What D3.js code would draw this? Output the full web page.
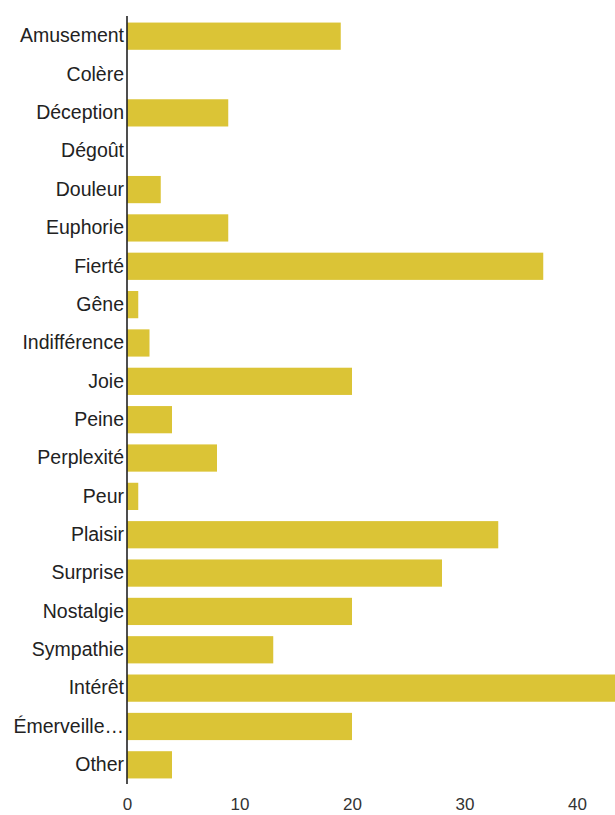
<!DOCTYPE html>
<html>
<head>
<meta charset="utf-8">
<script src="https://cdn.jsdelivr.net/npm/d3@7"></script>
<style>
  html, body { margin: 0; padding: 0; background: #fff; }
  svg { display: block; }
</style>
</head>
<body>
<svg id="chart" width="615" height="815"></svg>
<script>
const categories = ["Amusement","Colère","Déception","Dégoût","Douleur","Euphorie","Fierté","Gêne","Indifférence","Joie","Peine","Perplexité","Peur","Plaisir","Surprise","Nostalgie","Sympathie","Intérêt","Émerveille…","Other"];
const values = [19,0,9,0,3,9,37,1,2,20,4,8,1,33,28,20,13,44,20,4];
const xTicks = [0,10,20,30,40];

(function () {
const svg = d3.select("#chart");
const mLeft = 127, mTop = 17, mBottom = 784;

const x = d3.scaleLinear().domain([0, 44]).range([mLeft, mLeft + 44 * 11.25]);
const y = d3.scaleBand().domain(categories).range([mTop, mBottom]).paddingInner(0.29).paddingOuter(0.145);

const data = categories.map((c, i) => ({ c, v: values[i] }));

svg.append("g").selectAll("rect").data(data).join("rect")
  .attr("x", x(0))
  .attr("y", d => y(d.c))
  .attr("width", d => Math.max(0, x(d.v) - x(0)))
  .attr("height", y.bandwidth())
  .attr("fill", "#dbc436");

const yAxis = svg.append("g").attr("transform", `translate(${mLeft},0)`)
  .call(d3.axisLeft(y).tickSize(0).tickPadding(3));
yAxis.select(".domain").remove();
yAxis.selectAll("text")
  .attr("font-family", "'Liberation Sans', Arial, sans-serif")
  .attr("font-size", "19.5px")
  .attr("fill", "#222");

svg.append("line")
  .attr("x1", mLeft).attr("x2", mLeft)
  .attr("y1", mTop - 1).attr("y2", mBottom)
  .attr("stroke", "#222").attr("stroke-width", 1.6);

const xAxis = svg.append("g").attr("transform", `translate(0,${mBottom})`)
  .call(d3.axisBottom(x).tickValues(xTicks).tickSize(0).tickPadding(14));
xAxis.select(".domain").remove();
xAxis.selectAll("text")
  .attr("font-family", "'Liberation Sans', Arial, sans-serif")
  .attr("font-size", "17px")
  .attr("fill", "#333");
})();
</script>
</body>
</html>
